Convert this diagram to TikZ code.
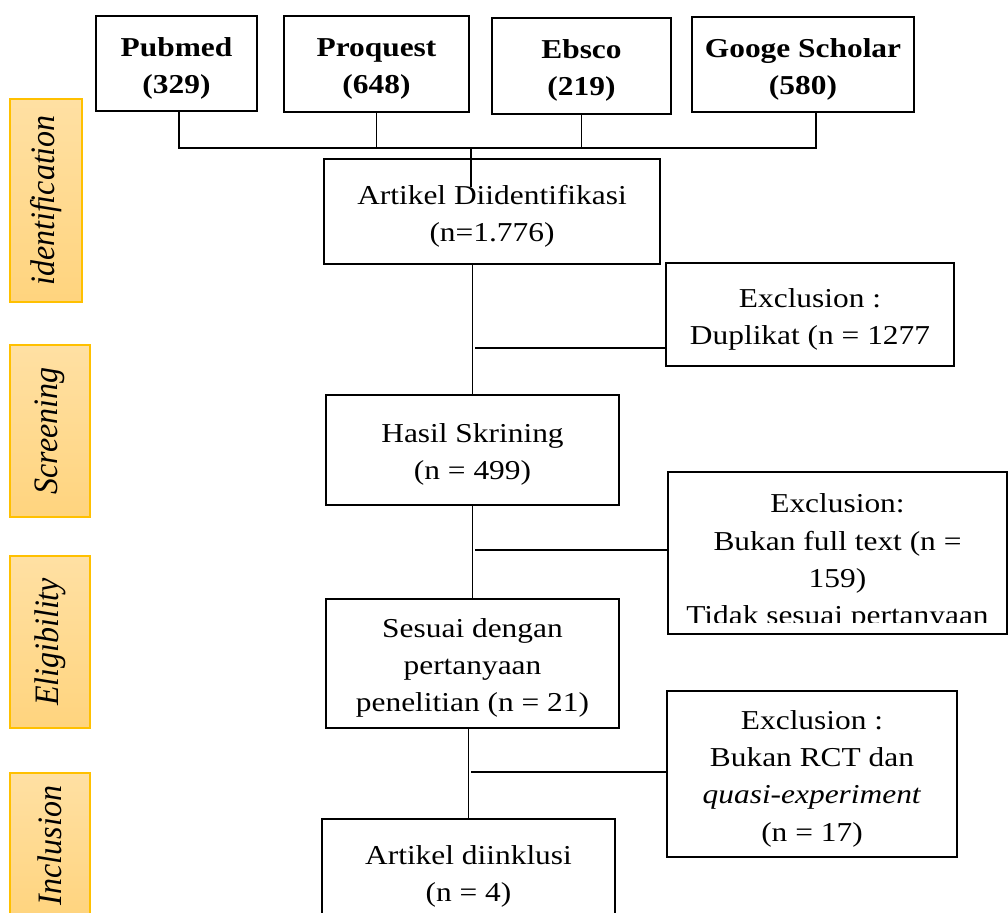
\documentclass[tikz,border=0pt]{standalone}
\usepackage{fontspec}
\setmainfont{Liberation Serif}
\usepackage{graphicx}
\definecolor{labtop}{RGB}{255,224,163}
\definecolor{labbot}{RGB}{255,212,126}
\definecolor{labedge}{RGB}{255,192,0}
\newcommand{\flowtext}[1]{\raisebox{-2pt}[\height][\depth]{\scalebox{1}[0.87]{\begin{tabular}{@{}c@{}}#1\end{tabular}}}}
\newcommand{\phasetext}[1]{\rotatebox{90}{\scalebox{1}[1.07]{#1}}}
\begin{document}
\begin{tikzpicture}[x=0.5pt, y=-0.5pt,
    every node/.style={inner sep=0pt, font=\fontsize{15.7}{21.3}\selectfont},
    flowbox/.style={draw, line width=0.9pt},
    srcbox/.style={flowbox, font=\fontsize{15.7}{21.3}\selectfont\bfseries},
    labbox/.style={draw=labedge, line width=0.6pt, top color=labtop, bottom color=labbot, font=\fontsize{16}{19}\selectfont\itshape},
    link/.style={line width=0.85pt}]
    \useasboundingbox (0,0) rectangle (1008,913);
    \clip (0,0) rectangle (1008,913);

    % phase labels
    \node [labbox, minimum width=36pt, minimum height=101.5pt] (ident) at (46,200.5) {\phasetext{identification}};
    \node [labbox, minimum width=40pt, minimum height=86pt] (scr) at (50,431) {\phasetext{Screening}};
    \node [labbox, minimum width=40pt, minimum height=86pt] (elig) at (50,642) {\phasetext{Eligibility}};
    \node [labbox, minimum width=40pt, minimum height=72.5pt] (inclab) at (50,845.5) {\phasetext{Inclusion}};

    % databases
    \node [srcbox, minimum width=80.5pt, minimum height=47.5pt] (pub) at (176.5,63.5) {\flowtext{Pubmed\\(329)}};
    \node [srcbox, minimum width=92.5pt, minimum height=48pt] (proq) at (376.5,64) {\flowtext{Proquest\\(648)}};
    \node [srcbox, minimum width=89.5pt, minimum height=48pt] (ebsco) at (581.5,66) {\flowtext{Ebsco\\(219)}};
    \node [srcbox, minimum width=111pt, minimum height=47.5pt] (gsch) at (803,64.5) {\flowtext{Googe Scholar\\(580)}};

    % main flow
    \node [flowbox, minimum width=168pt, minimum height=52.5pt] (art) at (492,211.5) {\flowtext{Artikel Diidentifikasi\\(n=1.776)}};
    \node [flowbox, minimum width=146.5pt, minimum height=55pt] (hasil) at (472.5,450) {\flowtext{Hasil Skrining\\(n = 499)}};
    \node [flowbox, minimum width=146.5pt, minimum height=64.5pt] (sesuai) at (472.5,663.5) {\flowtext{Sesuai dengan\\pertanyaan\\penelitian (n = 21)}};
    \node [flowbox, minimum width=146.5pt, minimum height=52.5pt] (incl) at (468.5,871.5) {\flowtext{Artikel diinklusi\\(n = 4)}};

    % exclusions
    \node [flowbox, minimum width=144pt, minimum height=51.5pt] (exdup) at (810,314.5) {\flowtext{Exclusion :\\Duplikat (n = 1277}};
    \node [flowbox, minimum width=169.5pt, minimum height=81pt] (exft) at (837.5,553) {};
    \begin{scope}
        \clip (668,472) rectangle (1007,623);
        \node [anchor=base] (exfttext) at (837.5,513) {\scalebox{1}[0.87]{\begin{tabular}[t]{@{}c@{}}Exclusion:\\Bukan full text (n =\\159)\\Tidak sesuai pertanyaan\end{tabular}}};
    \end{scope}
    \node [flowbox, minimum width=145pt, minimum height=83pt] (exrct) at (812,774) {\flowtext{Exclusion :\\Bukan RCT dan\\\textit{quasi-experiment}\\(n = 17)}};

    % connectors
    \coordinate (busL) at (179,148);
    \coordinate (busR) at (816,148);
    \coordinate (busT) at (471,187);
    \draw [link] (pub.south -| busL) -- (busL) -- (busR) -- (gsch.south -| busR);
    \draw [link] (proq.south) -- (proq.south |- busL);
    \draw [link] (ebsco.south) -- (ebsco.south |- busL);
    \draw [link] (busL -| busT) -- (busT);

    \draw [link] (art.south -| hasil.north) -- (hasil.north);
    \coordinate (dupJ) at (475,348);
    \draw [link] (dupJ) -- (dupJ -| exdup.west);

    \draw [link] (hasil.south) -- (sesuai.north);
    \coordinate (ftJ) at (475,550);
    \draw [link] (ftJ) -- (ftJ -| exft.west);

    \draw [link] (sesuai.south -| incl.north) -- (incl.north);
    \coordinate (rctJ) at (471,772);
    \draw [link] (rctJ) -- (rctJ -| exrct.west);
\end{tikzpicture}
\end{document}
